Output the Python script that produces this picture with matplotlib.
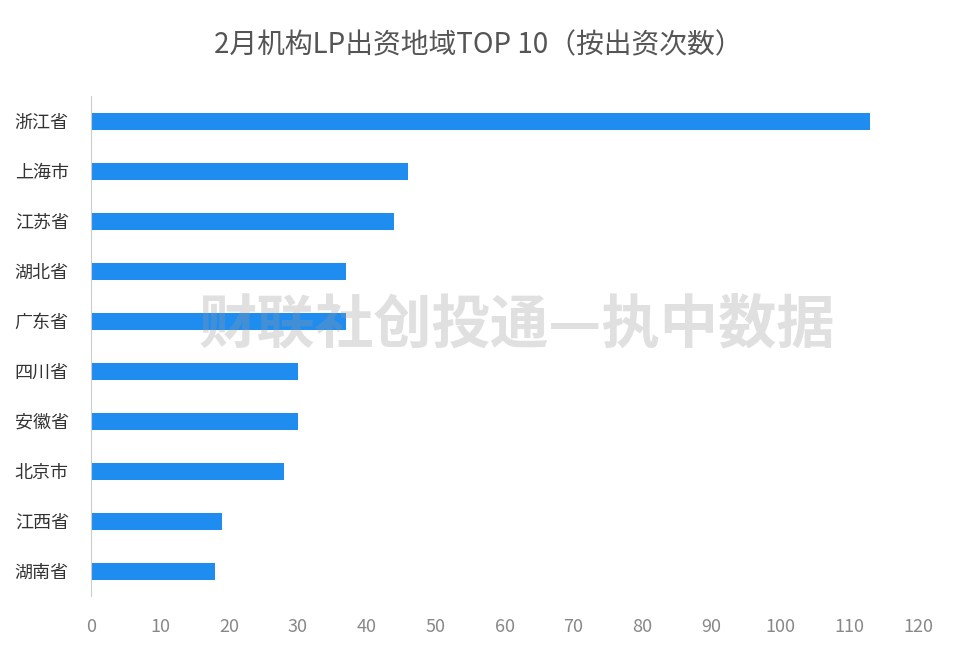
import matplotlib
matplotlib.use("Agg")
import matplotlib.pyplot as plt
from matplotlib import font_manager as fm

names = {f.name for f in fm.fontManager.ttflist}
cjk = [n for n in ["Noto Sans CJK SC", "Noto Sans CJK JP", "Noto Sans CJK TC", "Noto Sans CJK KR", "Noto Sans SC"] if n in names]
if not cjk:
    cjk = sorted(n for n in names if "CJK" in n or "SC" in n)
plt.rcParams["font.family"] = "sans-serif"
plt.rcParams["font.sans-serif"] = cjk + ["DejaVu Sans"]

categories = ["浙江省", "上海市", "江苏省", "湖北省", "广东省", "四川省", "安徽省", "北京市", "江西省", "湖南省"]
values = [113, 46, 44, 37, 37, 30, 30, 28, 19, 18]
xticks = [0, 10, 20, 30, 40, 50, 60, 70, 80, 90, 100, 110, 120]
title = "2月机构LP出资地域TOP 10（按出资次数）"

fig = plt.figure(figsize=(9.56, 6.53), dpi=100)
ax = fig.add_axes([91/956, 1-596/653, (918-91)/956, (596-96)/653])
y = list(range(len(categories)))
ax.barh(y, values, height=0.34, color="#1f8cf0")
ax.set_ylim(len(categories)-0.5, -0.5)
ax.set_xlim(0, 120)
ax.set_yticks(y)
ax.set_yticklabels(categories, fontsize=13, color="#333333")
ax.set_xticks(xticks)
ax.set_xticklabels([str(t) for t in xticks], fontsize=13, color="#888888")
for s in ["top", "right", "bottom"]:
    ax.spines[s].set_visible(False)
ax.spines["left"].set_color("#cccccc")
ax.tick_params(axis="y", length=0, pad=16)
ax.tick_params(axis="x", length=0, pad=16)
fig.text(0.5, 1-45/653, title, ha="center", va="center", fontsize=20, color="#555555")
fig.text(517/956, 1-325/653, "财联社创投通—执中数据", ha="center", va="center", fontsize=42,
         color="#999999", alpha=0.3, fontweight="bold", style="italic")
fig.savefig("out.png", dpi=100)
